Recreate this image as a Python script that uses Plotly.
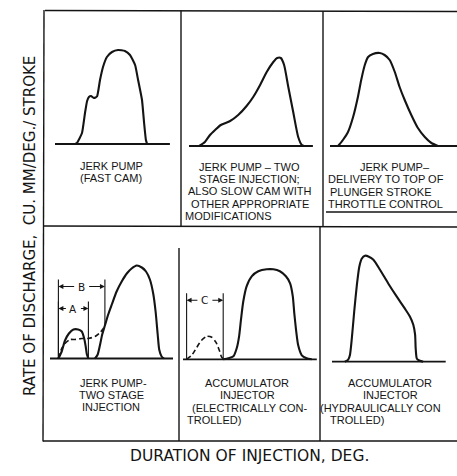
import plotly.graph_objects as go

# ---------------- data ----------------
# Duration of injection (deg, from start of each trace) vs rate of discharge (arbitrary units)
p1_deg = [6.7, 7.3, 9.0, 10.0, 10.7, 11.3, 12.0, 13.0, 14.0, 15.0, 16.0, 17.3, 19.0, 21.0, 23.3, 25.0, 26.7, 27.7, 29.0, 29.7, 30.3, 30.7]
p1_rate = [0, 0.1, 1.1, 3.1, 4.3, 4.7, 4.8, 4.6, 4.75, 6.4, 7.7, 8.7, 9.2, 9.4, 9.3, 8.9, 7.9, 6.4, 4.4, 2.1, 0.4, 0]

p2_deg = [3.4, 5.3, 7.0, 8.7, 10.6, 13.7, 16.4, 19.2, 21.4, 23.7, 25.9, 28.1, 29.4, 30.6, 31.7, 33.1, 34.8, 36.4, 37.6, 38.3]
p2_rate = [0, 0.4, 1.1, 1.6, 2.1, 2.5, 3.1, 4.0, 4.9, 6.1, 7.4, 8.4, 8.8, 8.8, 8.1, 5.9, 3.3, 0.9, 0.1, 0]

p3_deg = [2.7, 4.3, 6.0, 7.7, 9.3, 10.4, 11.6, 12.7, 14.3, 16.6, 18.2, 19.9, 21.6, 23.2, 24.9, 27.1, 29.3, 31.6, 33.8, 36.0]
p3_rate = [0, 0.6, 1.4, 2.9, 4.9, 6.6, 8.1, 8.9, 9.2, 9.3, 9.1, 8.6, 7.4, 5.9, 4.6, 3.1, 1.8, 0.9, 0.3, 0]

# two stage injection: first (pilot) stage, main stage, dashed alternative
p4a_deg = [2.8, 3.9, 5.0, 6.3, 7.8, 9.4, 10.6, 11.4, 11.9, 12.3, 12.8]
p4a_rate = [0, 0.7, 1.8, 2.5, 2.9, 2.9, 2.7, 2.0, 1.2, 0.4, 0]
p4_deg = [15.0, 15.9, 16.7, 17.4, 18.3, 19.4, 20.6, 22.2, 23.9, 25.6, 27.2, 28.9, 30.6, 32.0, 33.3, 34.4, 35.2, 35.9, 36.4, 37.2, 38.0]
p4_rate = [0, 0.4, 1.4, 2.4, 3.3, 4.4, 5.4, 6.7, 7.7, 8.5, 9.0, 9.3, 9.1, 8.7, 7.9, 6.5, 4.7, 2.4, 0.9, 0.2, 0]
p4d_deg = [2.8, 3.9, 5.0, 6.7, 8.3, 10.6, 12.8, 15.0, 16.7, 17.8, 18.3]
p4d_rate = [0, 1.0, 1.5, 1.9, 1.9, 2.0, 2.0, 2.2, 2.6, 3.0, 3.3]

p5d_deg = [1.2, 2.9, 4.6, 6.2, 7.9, 9.6, 11.0, 12.1, 12.9, 13.7]
p5d_rate = [0, 0.4, 1.2, 1.9, 2.3, 2.2, 1.7, 0.9, 0.2, 0]
p5_deg = [13.4, 15.1, 16.8, 17.9, 18.7, 19.3, 20.1, 21.2, 22.9, 25.1, 27.9, 30.1, 32.3, 34.3, 35.7, 36.6, 37.1, 37.7, 38.4, 39.6, 41.2, 42.9]
p5_rate = [0, 0.1, 0.3, 1.1, 2.3, 3.9, 5.8, 7.3, 8.3, 8.8, 9.0, 9.0, 8.8, 8.3, 7.6, 6.3, 4.6, 2.9, 1.4, 0.4, 0.1, 0]

p6_deg = [4.3, 5.4, 6.0, 6.6, 7.4, 8.3, 9.1, 9.9, 11.0, 12.3, 13.8, 16.0, 18.8, 21.6, 24.3, 26.0, 27.1, 27.7, 27.9, 28.3, 29.3, 30.4]
p6_rate = [0, 0.2, 0.7, 2.3, 5.0, 7.7, 9.5, 10.3, 10.6, 10.5, 10.2, 9.2, 7.8, 6.5, 5.3, 4.5, 3.7, 2.7, 1.3, 0.3, 0.1, 0]

# length of the duration (baseline) axis of each diagram, deg
base_len = [38.3, 41.3, 43.3, 41.0, 44.6, 37.9]

# dimension markers
dim_labels = ["A", "B", "C"]
dim_panel = [4, 4, 5]
dim_start = [2.8, 2.8, 1.2]
dim_end = [12.8, 18.3, 13.4]
dim_level = [5.0, 7.2, 5.9]
dim_end_floor = [0, 3.3, 0]

# captions
p1_text = ["JERK PUMP", "(FAST CAM)"]
p2_text = ["JERK PUMP – TWO", "STAGE INJECTION;", "ALSO SLOW CAM WITH", "OTHER APPROPRIATE", "MODIFICATIONS"]
p3_text = ["JERK PUMP–", "DELIVERY TO TOP OF", "PLUNGER STROKE", "THROTTLE CONTROL"]
p4_text = ["JERK PUMP-", "TWO STAGE", "INJECTION"]
p5_text = ["ACCUMULATOR", "INJECTOR", "(ELECTRICALLY CON-", "TROLLED)"]
p6_text = ["ACCUMULATOR", "INJECTOR", "(HYDRAULICALLY CON", "TROLLED)"]

y_title = "RATE OF DISCHARGE,  CU. MM/DEG./ STROKE"
x_title = "DURATION OF INJECTION, DEG."

# ---------------- layout geometry (pixels) ----------------
W, H = 457, 476
PX_DEG, PX_RATE = 3.0, 10.0
# cell: left, right, top, bottom ; origin x px ; baseline y px
cells = [
    (45, 181, 10, 226, 55, 144),
    (181, 323, 10, 226, 189, 146),
    (323, 457, 10, 226, 330, 146),
    (43, 179, 226, 441, 50, 358.5),
    (179, 320, 226, 441, 183, 359.3),
    (320, 457, 226, 441, 332, 361.7),
]

INK = "#141414"
FONT = "DejaVu Sans"
CAP_FONT = "Liberation Sans"
LS = 12.4  # caption line spacing px

fig = go.Figure()
layout = dict(width=W, height=H, margin=dict(l=0, r=0, t=0, b=0),
              paper_bgcolor="white", plot_bgcolor="rgba(0,0,0,0)", showlegend=False)

for i, (l, r, t, b, ox, by) in enumerate(cells):
    k = "" if i == 0 else str(i + 1)
    layout["xaxis" + k] = dict(domain=[l / W, r / W], range=[(l - ox) / PX_DEG, (r - ox) / PX_DEG],
                               visible=False, fixedrange=True)
    layout["yaxis" + k] = dict(domain=[1 - b / H, 1 - t / H], range=[(by - b) / PX_RATE, (by - t) / PX_RATE],
                               visible=False, fixedrange=True)
fig.update_layout(**layout)

def ax(n):
    return ("x" if n == 1 else "x%d" % n), ("y" if n == 1 else "y%d" % n)

def curve(n, xs, ys, dash="solid", width=2.1, smooth=0.6):
    xa, ya = ax(n)
    fig.add_trace(go.Scatter(x=xs, y=ys, xaxis=xa, yaxis=ya, mode="lines",
                             line=dict(color=INK, width=width, dash=dash, shape="spline", smoothing=smooth),
                             hoverinfo="skip"))

# baselines
for n in range(1, 7):
    xa, ya = ax(n)
    fig.add_trace(go.Scatter(x=[0, base_len[n - 1]], y=[0, 0], xaxis=xa, yaxis=ya, mode="lines",
                             line=dict(color=INK, width=1.8), hoverinfo="skip"))

curve(1, p1_deg, p1_rate, smooth=0.45)
curve(2, p2_deg, p2_rate)
curve(3, p3_deg, p3_rate)
curve(4, p4d_deg, p4d_rate, dash="5px,3px", width=1.6)
curve(4, p4a_deg, p4a_rate)
curve(4, p4_deg, p4_rate)
curve(5, p5d_deg, p5d_rate, dash="5px,3px", width=1.6)
curve(5, p5_deg, p5_rate)
curve(6, p6_deg, p6_rate)

# dimension markers
for lab, n, s, e, lv, fl in zip(dim_labels, dim_panel, dim_start, dim_end, dim_level, dim_end_floor):
    xa, ya = ax(n)
    top = lv + 0.7
    fig.add_shape(type="line", xref=xa, yref=ya, x0=s, x1=s, y0=0, y1=top, line=dict(color=INK, width=1.1))
    fig.add_shape(type="line", xref=xa, yref=ya, x0=e, x1=e, y0=fl, y1=top, line=dict(color=INK, width=1.1))
    mid = (s + e) / 2
    fig.add_annotation(x=mid, y=lv, xref=xa, yref=ya, text=lab, showarrow=False,
                       font=dict(family=FONT, size=10.5, color=INK))
    for end in (s, e):
        fig.add_annotation(x=end, y=lv, xref=xa, yref=ya, ax=mid, ay=lv, axref=xa, ayref=ya,
                           text="", showarrow=True, arrowhead=2, arrowsize=0.9, arrowwidth=1.1,
                           arrowcolor=INK, startstandoff=6, standoff=0)

# frame lines (paper px)
frame = [
    (45, 10.5, 457, 11.5), (44, 10, 43, 441.5), (43, 441, 457, 441), (44, 226, 457, 227),
    (181, 10.5, 181, 226), (323, 11, 323, 226), (179, 248, 179, 441), (320, 226, 320, 441),
    (326, 212, 457, 212),
]
for x0, y0, x1, y1 in frame:
    fig.add_shape(type="line", xref="paper", yref="paper", x0=x0 / W, x1=x1 / W,
                  y0=1 - y0 / H, y1=1 - y1 / H, line=dict(color=INK, width=1.4))

# captions: (x px, anchor) per line, first line centre y px
def caption(lines, xs, y0):
    for j, (txt, (xp, anc)) in enumerate(zip(lines, xs)):
        yp = y0 + j * LS
        fig.add_annotation(x=xp / W, y=1 - yp / H, xref="paper", yref="paper", text=txt,
                           showarrow=False, xanchor=anc, yanchor="middle", borderpad=0,
                           font=dict(family=CAP_FONT, size=11, color=INK))

caption(p1_text, [(111, "center"), (111, "center")], 165.5)
caption(p2_text, [(250, "center"), (250, "center"), (250, "center"), (250, "center"), (184, "left")], 166.5)
caption(p3_text, [(395, "center"), (327, "left"), (329, "left"), (327, "left")], 167)
caption(p4_text, [(113, "center"), (111, "center"), (111, "center")], 382.5)
caption(p5_text, [(247, "center"), (247, "center"), (249, "center"), (186, "left")], 383)
caption(p6_text, [(390, "center"), (390, "center"), (319, "left"), (329, "left")], 383)

fig.add_annotation(x=19 / W, y=1 - 226 / H, xref="paper", yref="paper", text=y_title, textangle=-90,
                   showarrow=False, font=dict(family=FONT, size=15, color=INK))
fig.add_annotation(x=249 / W, y=1 - 467 / H, xref="paper", yref="paper", text=x_title,
                   showarrow=False, font=dict(family=FONT, size=15.5, color=INK))

fig.write_html("out.html", config={"displayModeBar": False})
